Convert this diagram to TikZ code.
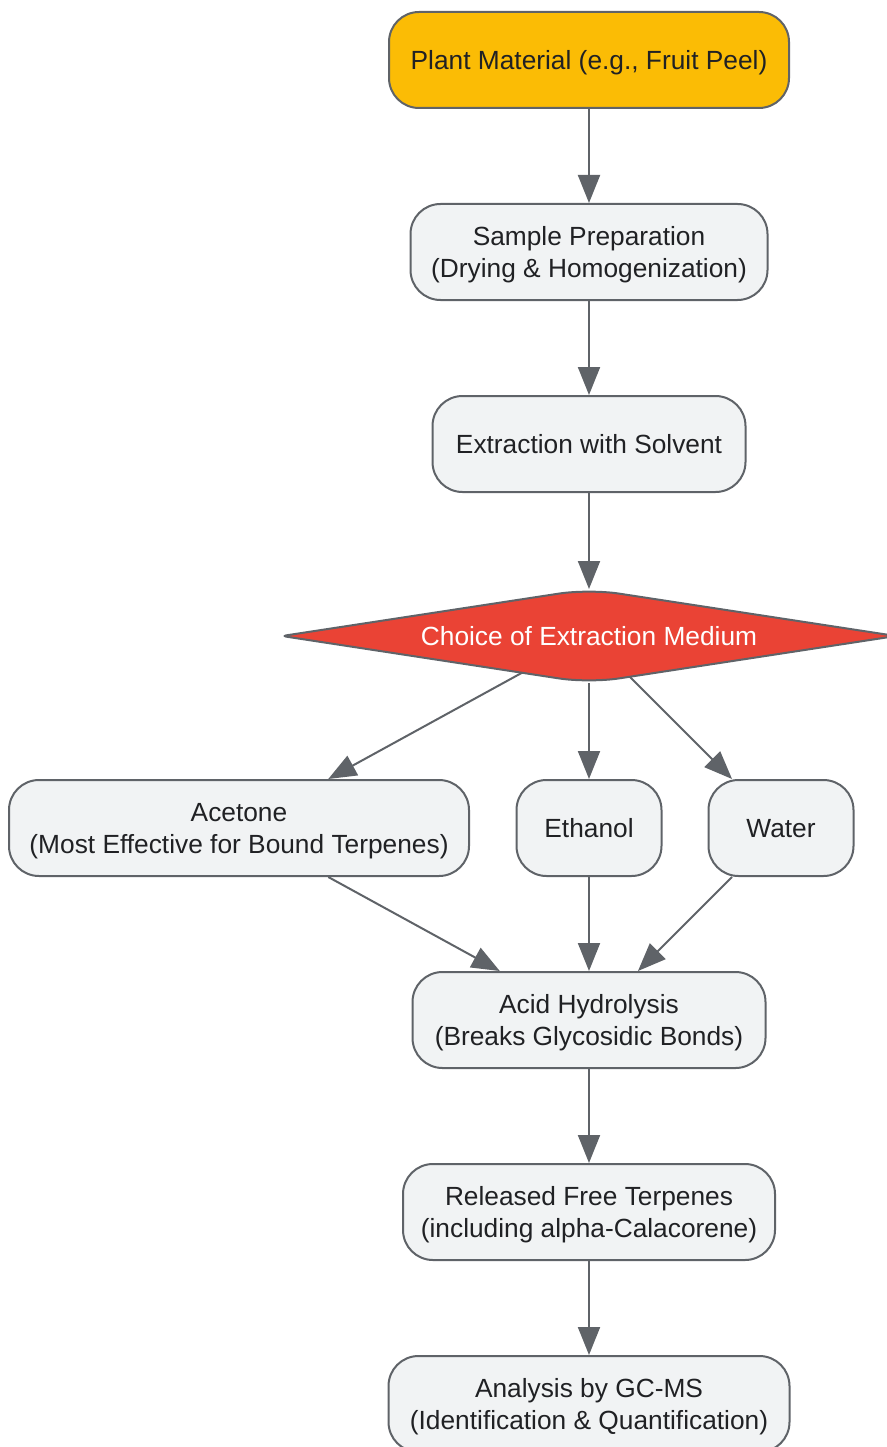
\documentclass[tikz,border=0pt]{standalone}
\usepackage{fontspec}
\setmainfont{Liberation Sans}
\usetikzlibrary{shapes.geometric,arrows.meta,backgrounds,calc}
\definecolor{edgegray}{HTML}{5F6368}
\definecolor{boxfill}{HTML}{F1F3F4}
\definecolor{txt}{HTML}{202124}
\definecolor{gyellow}{HTML}{FBBC05}
\definecolor{gred}{HTML}{EA4335}
\tikzset{
  base/.style={draw=edgegray, line width=2pt, text=txt, align=center,
    font=\fontsize{26.3}{32}\selectfont, inner sep=0pt, text depth=0pt},
  flowbox/.style={base, rectangle, rounded corners=30pt, fill=boxfill},
  startbox/.style={flowbox, fill=gyellow},
  choicebox/.style={base, diamond, draw=none, text=white,
    shape aspect=6.63, minimum width=612pt, minimum height=92pt},
  choiceoutline/.style={draw=edgegray, fill=gred, line width=2pt},
  conn/.style={draw=edgegray, line width=2pt,
    -{Triangle[length=28pt,width=22pt]}},
}
\begin{document}
\begin{tikzpicture}[x=1pt,y=-1pt]
\useasboundingbox (0,0) rectangle (886,1447);
\node[startbox, minimum width=400pt, minimum height=96pt] (plant) at (589,60) {Plant Material (e.g., Fruit Peel)};
\node[flowbox, minimum width=357pt, minimum height=96pt] (prep) at (589,252) {Sample Preparation\\(Drying \& Homogenization)};
\node[flowbox, minimum width=313pt, minimum height=96pt] (extr) at (589,444) {Extraction with Solvent};
\node[choicebox] (choice) at (589,636) {Choice of Extraction Medium};
\begin{scope}[on background layer]
\path[choiceoutline] ($(choice.north)!0.5!(choice.east)$)
  [rounded corners=5pt] -- (choice.east)
  [rounded corners=30pt] -- (choice.south)
  [rounded corners=5pt] -- (choice.west)
  [rounded corners=30pt] -- (choice.north)
  [sharp corners] -- cycle;
\end{scope}
\node[flowbox, minimum width=460pt, minimum height=96pt] (acetone) at (239,828) {Acetone\\(Most Effective for Bound Terpenes)};
\node[flowbox, minimum width=145pt, minimum height=96pt] (ethanol) at (589,828) {Ethanol};
\node[flowbox, minimum width=145pt, minimum height=96pt] (water) at (781,828) {Water};
\node[flowbox, minimum width=353pt, minimum height=96pt] (acid) at (589,1020) {Acid Hydrolysis\\(Breaks Glycosidic Bonds)};
\node[flowbox, minimum width=372pt, minimum height=96pt] (free) at (589,1212) {Released Free Terpenes\\(including alpha-Calacorene)};
\node[flowbox, minimum width=401pt, minimum height=96pt] (gcms) at (589,1404) {Analysis by GC-MS\\(Identification \& Quantification)};
\draw[conn] (plant) -- (prep);
\draw[conn] (prep) -- (extr);
\draw[conn] (extr) -- (choice);
\draw[conn] (choice) -- (acetone);
\draw[conn] (choice) -- (ethanol);
\draw[conn] (choice) -- (water);
\draw[conn] (acetone) -- (acid);
\draw[conn] (ethanol) -- (acid);
\draw[conn] (water) -- (acid);
\draw[conn] (acid) -- (free);
\draw[conn] (free) -- (gcms);
\end{tikzpicture}
\end{document}
